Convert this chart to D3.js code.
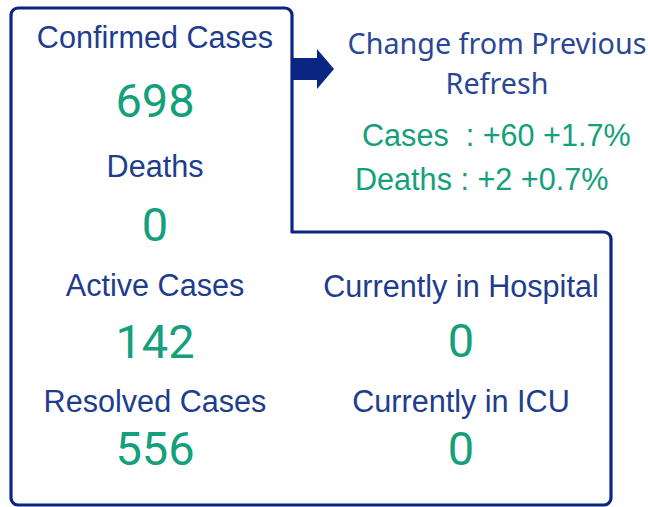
<!DOCTYPE html>
<html>
<head>
<meta charset="utf-8">
<script src="https://cdn.jsdelivr.net/npm/d3@7"></script>
<style>
  body { margin: 0; background: #fff; }
  svg { display: block; }
  text { white-space: pre; }
</style>
</head>
<body>
<div id="card"></div>
<script>
const w = 648;
const h = 507;

// kpi data
const labels = ["Confirmed Cases", "Deaths", "Active Cases", "Resolved Cases", "Currently in Hospital", "Currently in ICU"];
const values = [698, 0, 142, 556, 0, 0];
const changeTitle = ["Change from Previous", "Refresh"];
const changeNames = ["Cases  ", "Deaths "];
const changeCounts = [60, 2];
const changePcts = [1.7, 0.7];

// layout (where each kpi sits)
const column = ["left", "left", "left", "left", "right", "right"];
const labelY = [48, 177, 296, 412, 297, 412];
const valueY = [117, 241, 358, 465, 357, 465];

const navy = "#0a2582";
const textNavy = "#203d8d";
const green = "#13a07b";

const xScale = d3.scaleOrdinal().domain(["left", "right"]).range([155, 461]);

const svg = d3.select("#card")
  .append("svg")
  .attr("width", w)
  .attr("height", h);

// outline: tall box on the left, stepping out to a wider box below
const outline = d3.path();
const r = 7;
outline.moveTo(292, 232);
outline.lineTo(292, 8 + r);
outline.arcTo(292, 8, 292 - r, 8, r);
outline.lineTo(11 + r, 8);
outline.arcTo(11, 8, 11, 8 + r, r);
outline.lineTo(11, 505 - r);
outline.arcTo(11, 505, 11 + r, 505, r);
outline.lineTo(611 - r, 505);
outline.arcTo(611, 505, 611, 505 - r, r);
outline.lineTo(611, 232 + r);
outline.arcTo(611, 232, 611 - r, 232, r);
outline.lineTo(292, 232);

svg.append("path")
  .attr("d", outline.toString())
  .attr("fill", "none")
  .attr("stroke", navy)
  .attr("stroke-width", 3.2)
  .attr("stroke-linecap", "round");

// arrow pointing to the change panel
svg.append("path")
  .attr("d", "M293,58 L317,58 L317,49 L334,69 L317,89 L317,80 L293,80 Z")
  .attr("fill", navy);

const kpis = labels.map((d, i) => ({label: d, value: values[i], col: column[i], ly: labelY[i], vy: valueY[i]}));

svg.selectAll("text.label")
  .data(kpis)
  .enter()
  .append("text")
  .attr("class", "label")
  .attr("x", d => xScale(d.col))
  .attr("y", d => d.ly)
  .attr("text-anchor", "middle")
  .attr("font-family", "Liberation Sans, Arial, sans-serif")
  .attr("font-size", 30.6)
  .attr("fill", textNavy)
  .text(d => d.label);

svg.selectAll("text.value")
  .data(kpis)
  .enter()
  .append("text")
  .attr("class", "value")
  .attr("x", d => xScale(d.col))
  .attr("y", d => d.vy)
  .attr("text-anchor", "middle")
  .attr("font-family", "Roboto, sans-serif")
  .attr("font-size", 47)
  .attr("fill", green)
  .text(d => d3.format(",")(d.value));

// change panel
svg.selectAll("text.ctitle")
  .data(changeTitle)
  .enter()
  .append("text")
  .attr("class", "ctitle")
  .attr("x", 497)
  .attr("y", (d, i) => 54 + i * 40)
  .attr("text-anchor", "middle")
  .attr("font-family", "Noto Sans, Open Sans, sans-serif")
  .attr("font-size", 28.7)
  .attr("fill", "#2a4796")
  .text(d => d);

const changeX = [362, 355];
const changeY = [146, 190];

svg.selectAll("text.change")
  .data(changeNames)
  .enter()
  .append("text")
  .attr("class", "change")
  .attr("x", (d, i) => changeX[i])
  .attr("y", (d, i) => changeY[i])
  .attr("font-family", "Liberation Sans, Arial, sans-serif")
  .attr("font-size", 30.6)
  .attr("fill", green)
  .text((d, i) => d + ": +" + changeCounts[i] + " +" + changePcts[i] + "%");
</script>
</body>
</html>
